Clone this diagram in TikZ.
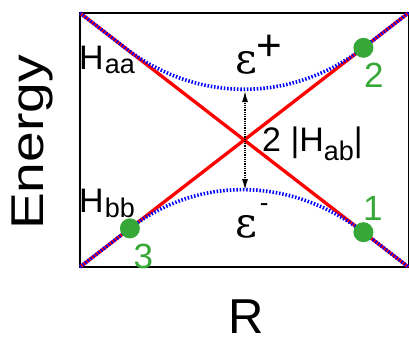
\documentclass[tikz,border=0pt]{standalone}
\usepackage{fontspec}
\setmainfont{Liberation Sans}
\newfontfamily\greekfont{DejaVu Serif}
\usetikzlibrary{calc,arrows.meta}
\definecolor{mygreen}{RGB}{55,168,55}
\tikzset{
  frame/.style={black, line width=1.2pt},
  redline/.style={red, line width=3.3pt},
  blueline/.style={blue, line width=3.6pt, dash pattern=on 1.5pt off 1.8pt},
  greendot/.style={circle, fill=mygreen, inner sep=0pt, minimum size=20pt},
  lbl/.style={inner sep=0pt, font=\fontsize{34}{34}\selectfont},
  num/.style={lbl, text=mygreen, font=\fontsize{35}{35}\selectfont},
  gaparrow/.style={black, line width=1.3pt, dash pattern=on 1pt off 0.8pt,
    {Latex[length=11pt,width=6pt]}-{Latex[length=11pt,width=6pt]}}
}
\newcommand{\subtxt}[2]{\raisebox{-#1}{\fontsize{27}{27}\selectfont #2}}
\begin{document}
\begin{tikzpicture}[x=1pt,y=-1pt]
\useasboundingbox (0,0) rectangle (409,337);
% corners
\coordinate (TL) at (80,13);
\coordinate (TR) at (408.4,13);
\coordinate (BL) at (80,267);
\coordinate (BR) at (408.4,267);
\coordinate (X) at ($(TL)!0.5!(BR)$);
% junction points
\coordinate (A) at ($(TL)!0.137!(BR)$);
\coordinate (D1) at ($(TL)!0.863!(BR)$);
\coordinate (D2) at ($(BL)!0.863!(TR)$);
\coordinate (D3) at ($(BL)!0.152!(TR)$);
% frame
\draw[frame] (TL) rectangle (BR);
% diabatic lines
\draw[redline] (TL) -- (BR);
\draw[redline] (BL) -- (TR);
% adiabatic curves
\draw[blueline] (TL) -- (A) .. controls ($(A)!0.6!(X)$) and ($(D2)!0.6!(X)$) .. (D2) -- (TR);
\draw[blueline] (BL) -- (D3) .. controls ($(D3)!0.6!(X)$) and ($(D1)!0.6!(X)$) .. (D1) -- (BR);
% gap arrow
\coordinate (gtop) at (245,91);
\coordinate (gbot) at (245,190);
\draw[gaparrow] (gtop) -- (gbot);
% dots
\node[greendot] (p1) at (D1) {};
\node[greendot] (p2) at (D2) {};
\node[greendot] (p3) at (D3) {};
% numbers
\node[num, anchor=base west] (n1) at (363,220) {1};
\node[num, anchor=base west] (n2) at (364,87) {2};
\node[num, anchor=base west] (n3) at (133.5,268) {3};
% labels
\node[lbl, anchor=base west] (haa) at (79,69) {H\kern1pt\subtxt{4pt}{aa}};
\node[lbl, anchor=base west] (hbb) at (79,212) {H\kern1pt\subtxt{5pt}{bb}};
\node[lbl, anchor=base west] (hab) at (262,151) {2 |H\subtxt{9pt}{ab}|};
\node[lbl, anchor=base west] (ep) at (235,73) {{\greekfont\fontsize{42}{42}\selectfont ε}\kern0pt\raisebox{12.5pt}{\fontsize{44}{44}\selectfont +}};
\node[lbl, anchor=base west] (em) at (235,237) {{\greekfont\fontsize{42}{42}\selectfont ε}\kern3pt\raisebox{26pt}{\fontsize{26}{26}\selectfont -}};
% axis labels
\node[inner sep=0pt, anchor=base, rotate=90, font=\fontsize{46}{46}\selectfont] (energy) at (43,142.5) {\scalebox{1.2}[1]{Energy}};
\node[inner sep=0pt, anchor=base, text depth=0pt, font=\fontsize{49}{49}\selectfont] (R) at (246,333.5) {R};
\end{tikzpicture}
\end{document}
